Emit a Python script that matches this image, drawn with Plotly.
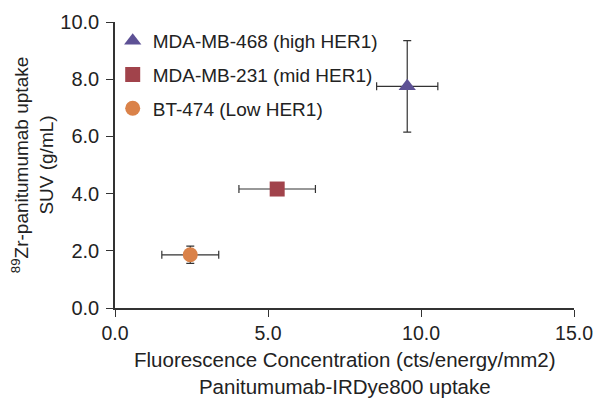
import plotly.graph_objects as go

names = ["MDA-MB-468 (high HER1)", "MDA-MB-231 (mid HER1)", "BT-474 (Low HER1)"]
x_vals = [9.55, 5.30, 2.46]
x_err = [1.0, 1.25, 0.93]
y_vals = [7.75, 4.16, 1.86]
y_err = [1.6, 0.0, 0.3]
symbols = ["triangle-up", "square", "circle"]
colors = ["#5d5195", "#a1434b", "#da8249"]
sizes = [15, 15, 15]
x_title = "Fluorescence Concentration (cts/energy/mm2)<br>Panitumumab-IRDye800 uptake"
y_title = "<sup>89</sup>Zr-panitumumab uptake<br>SUV (g/mL)"

fig = go.Figure()
for i in range(3):
    fig.add_trace(go.Scatter(
        x=[x_vals[i]], y=[y_vals[i]], mode="markers", name=names[i],
        legendgroup=names[i],
        marker=dict(symbol=symbols[i], color=colors[i], size=sizes[i], line=dict(width=0)),
        error_x=dict(type="data", array=[x_err[i]], color="#333333", thickness=1.2, width=4),
        error_y=dict(type="data", array=[y_err[i]], color="#333333", thickness=1.2, width=4,
                     visible=y_err[i] > 0),
    ))

font = "Liberation Sans, Arial, sans-serif"
fig.update_layout(
    width=594, height=401,
    margin=dict(l=115, r=20, t=22, b=93, autoexpand=False),
    paper_bgcolor="white", plot_bgcolor="white",
    font=dict(family=font, color="#222222", size=20),
    showlegend=True,
    legend=dict(x=-0.005, y=1.0, xanchor="left", yanchor="top", bgcolor="rgba(0,0,0,0)",
                font=dict(size=19, color="#222222"), tracegroupgap=6,
                traceorder="grouped", itemwidth=30),
    xaxis=dict(range=[0, 15], tickvals=[0, 5, 10, 15], ticktext=["0.0", "5.0", "10.0", "15.0"],
               showline=True, linecolor="#333333", linewidth=1.5, ticks="outside",
               ticklen=7, tickcolor="#333333", showgrid=False, zeroline=False,
               tickfont=dict(size=19.5), automargin=False),
    yaxis=dict(range=[0, 10], tickvals=[0, 2, 4, 6, 8, 10],
               ticktext=["0.0", "2.0", "4.0", "6.0", "8.0", "10.0"],
               showline=True, linecolor="#333333", linewidth=1.5, ticks="outside",
               ticklen=7, tickcolor="#333333", showgrid=False, zeroline=False,
               tickfont=dict(size=20), automargin=False, ticklabelstandoff=3,
               title=dict(text=y_title, font=dict(size=19), standoff=2)),
    annotations=[dict(text=x_title, xref="paper", yref="paper", x=0.5, y=-0.227,
                      xanchor="center", yanchor="middle", showarrow=False,
                      font=dict(size=20.5, color="#222222"))],
)
fig.write_html("out.html", config={"displayModeBar": False},
               post_script="document.body.style.margin='0';document.body.style.padding='0';")
